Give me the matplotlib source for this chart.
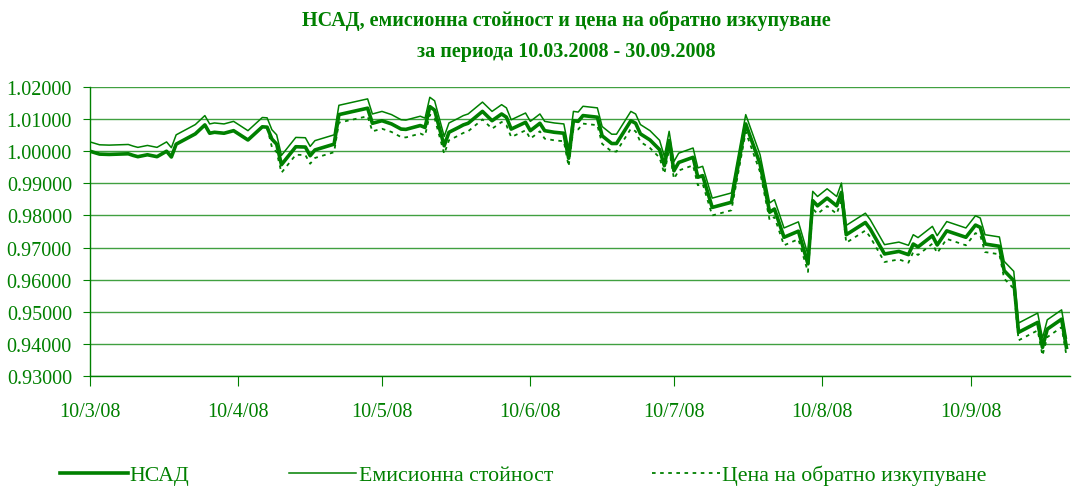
import datetime as dt
import matplotlib
matplotlib.use("Agg")
import matplotlib.pyplot as plt
import matplotlib.dates as mdates
from matplotlib.ticker import MultipleLocator, FuncFormatter

GREEN = "#008000"

# dates of the points (2008)
dates = [
    "03-10", "03-12", "03-14", "03-18", "03-19", "03-20", "03-22", "03-24", "03-26", "03-27", "03-28",
    "04-01", "04-03", "04-04", "04-05", "04-07", "04-09", "04-12", "04-15", "04-16", "04-17", "04-18",
    "04-19", "04-22", "04-24", "04-25", "04-26", "04-30",
    "05-01", "05-07", "05-08", "05-10", "05-12", "05-14", "05-15", "05-18", "05-19", "05-20", "05-21",
    "05-23", "05-24", "05-26", "05-27", "05-28", "05-31",
    "06-02", "06-04", "06-05", "06-06", "06-09", "06-10", "06-12", "06-13", "06-15", "06-17", "06-18",
    "06-19", "06-20", "06-21", "06-24", "06-25", "06-27", "06-28",
    "07-01", "07-02", "07-03", "07-05", "07-07", "07-08", "07-09", "07-10", "07-11", "07-14", "07-15",
    "07-16", "07-18", "07-22", "07-25", "07-28", "07-30", "07-31",
    "08-02", "08-05", "08-07", "08-08", "08-09", "08-11", "08-13", "08-14", "08-15", "08-19", "08-20",
    "08-23", "08-26", "08-28", "08-29", "08-30",
    "09-02", "09-03", "09-05", "09-09", "09-11", "09-12", "09-13", "09-16", "09-17", "09-19", "09-20",
    "09-24", "09-25", "09-26", "09-29", "09-30",
]

nav = [
    1.0000, 0.9991, 0.9990, 0.9992, 0.9987, 0.9983, 0.9989, 0.9983, 1.0000, 0.9982, 1.0022,
    1.0054, 1.0082, 1.0056, 1.0059, 1.0056, 1.0064, 1.0035, 1.0076, 1.0075, 1.0038, 1.0022,
    0.9958, 1.0014, 1.0013, 0.9986, 1.0004, 1.0022,
    1.0114, 1.0134, 1.0087, 1.0095, 1.0085, 1.0069, 1.0068, 1.0080, 1.0074, 1.0139, 1.0128,
    1.0017, 1.0059, 1.0074, 1.0082, 1.0087, 1.0124,
    1.0095, 1.0116, 1.0106, 1.0069, 1.0090, 1.0064, 1.0087, 1.0064, 1.0059, 1.0056, 0.9978,
    1.0095, 1.0093, 1.0111, 1.0106, 1.0048, 1.0024, 1.0024,
    1.0095, 1.0087, 1.0054, 1.0035, 1.0005, 0.9955, 1.0033, 0.9939, 0.9965, 0.9981, 0.9919,
    0.9924, 0.9825, 0.9841, 1.0085, 0.9960, 0.9810, 0.9820,
    0.9732, 0.9751, 0.9649, 0.9846, 0.9830, 0.9854, 0.9830, 0.9872, 0.9740, 0.9778, 0.9758,
    0.9680, 0.9688, 0.9678, 0.9711, 0.9702,
    0.9737, 0.9708, 0.9752, 0.9732, 0.9770, 0.9763, 0.9711, 0.9704, 0.9628, 0.9597, 0.9436,
    0.9467, 0.9389, 0.9446, 0.9477, 0.9389,
]

emission = [
    1.0029, 1.0020, 1.0019, 1.0021, 1.0016, 1.0012, 1.0018, 1.0012, 1.0029, 1.0011, 1.0051,
    1.0083, 1.0111, 1.0085, 1.0088, 1.0085, 1.0093, 1.0064, 1.0105, 1.0104, 1.0067, 1.0051,
    0.9987, 1.0043, 1.0042, 1.0015, 1.0033, 1.0051,
    1.0143, 1.0163, 1.0116, 1.0124, 1.0114, 1.0098, 1.0097, 1.0109, 1.0103, 1.0168, 1.0157,
    1.0046, 1.0088, 1.0103, 1.0111, 1.0116, 1.0153,
    1.0124, 1.0145, 1.0135, 1.0098, 1.0119, 1.0093, 1.0116, 1.0093, 1.0088, 1.0085, 1.0007,
    1.0124, 1.0122, 1.0140, 1.0135, 1.0077, 1.0053, 1.0053,
    1.0124, 1.0116, 1.0083, 1.0064, 1.0034, 0.9984, 1.0062, 0.9968, 0.9994, 1.0010, 0.9948,
    0.9953, 0.9854, 0.9870, 1.0114, 0.9989, 0.9839, 0.9849,
    0.9761, 0.9780, 0.9678, 0.9875, 0.9859, 0.9883, 0.9859, 0.9901, 0.9769, 0.9807, 0.9787,
    0.9709, 0.9717, 0.9707, 0.9740, 0.9731,
    0.9766, 0.9737, 0.9781, 0.9761, 0.9799, 0.9792, 0.9740, 0.9733, 0.9657, 0.9626, 0.9465,
    0.9496, 0.9418, 0.9475, 0.9506, 0.9418,
]

redemption = [
    1.0000, 0.9991, 0.9990, 0.9992, 0.9987, 0.9983, 0.9989, 0.9983, 1.0000, 0.9982, 1.0022,
    1.0054, 1.0082, 1.0056, 1.0059, 1.0056, 1.0064, 1.0035, 1.0076, 1.0075, 1.0013, 0.9997,
    0.9933, 0.9989, 0.9988, 0.9961, 0.9979, 0.9997,
    1.0089, 1.0109, 1.0062, 1.0070, 1.0060, 1.0044, 1.0043, 1.0055, 1.0049, 1.0114, 1.0103,
    0.9992, 1.0034, 1.0049, 1.0057, 1.0062, 1.0099,
    1.0070, 1.0091, 1.0081, 1.0044, 1.0065, 1.0039, 1.0062, 1.0039, 1.0034, 1.0031, 0.9953,
    1.0070, 1.0068, 1.0086, 1.0081, 1.0023, 0.9999, 0.9999,
    1.0070, 1.0062, 1.0029, 1.0010, 0.9980, 0.9930, 1.0008, 0.9914, 0.9940, 0.9956, 0.9894,
    0.9899, 0.9800, 0.9816, 1.0060, 0.9935, 0.9785, 0.9795,
    0.9707, 0.9726, 0.9624, 0.9821, 0.9805, 0.9829, 0.9805, 0.9847, 0.9715, 0.9753, 0.9733,
    0.9655, 0.9663, 0.9653, 0.9686, 0.9677,
    0.9712, 0.9683, 0.9727, 0.9707, 0.9745, 0.9738, 0.9686, 0.9679, 0.9603, 0.9572, 0.9411,
    0.9442, 0.9364, 0.9421, 0.9452, 0.9364,
]

labels = ["НСАД", "Емисионна стойност", "Цена на обратно изкупуване"]
title = "НСАД, емисионна стойност и цена на обратно изкупуване\nза периода 10.03.2008 - 30.09.2008"

x = [dt.datetime.strptime("2008-" + d, "%Y-%m-%d") for d in dates]

plt.rcParams["font.family"] = ["Liberation Serif", "DejaVu Serif"]

fig = plt.figure(figsize=(10.73, 4.89), dpi=100)
ax = fig.add_axes([90 / 1073, 1 - 377 / 489, 980 / 1073, 289 / 489])

ax.plot(x, nav, color=GREEN, lw=2.6, label=labels[0], zorder=4)
ax.plot(x, emission, color=GREEN, lw=1.1, label=labels[1], zorder=3)
ax.plot(x, redemption, color=GREEN, lw=1.3, ls=(0, (2, 2.5)), label=labels[2], zorder=2)

ax.set_xlim(dt.datetime(2008, 3, 10), dt.datetime(2008, 9, 30, 18))
ax.set_ylim(0.93, 1.02)
ax.yaxis.set_major_locator(MultipleLocator(0.01))
ax.yaxis.set_major_formatter(FuncFormatter(lambda v, p: f"{v:.5f}"))
ax.xaxis.set_major_locator(mdates.MonthLocator(bymonthday=10))
ax.xaxis.set_major_formatter(
    FuncFormatter(lambda v, p: (lambda d: f"{d.day}/{d.month}/{d:%y}")(mdates.num2date(v))))

ax.grid(axis="y", color=GREEN, lw=1.0, alpha=0.75)
for s in ["top", "right"]:
    ax.spines[s].set_visible(False)
for s in ["left", "bottom"]:
    ax.spines[s].set_color(GREEN)
    ax.spines[s].set_linewidth(1.0)

ax.tick_params(axis="y", colors=GREEN, labelcolor=GREEN, labelsize=14.5, length=5, pad=8)
ax.tick_params(axis="x", colors=GREEN, labelcolor=GREEN, labelsize=14.5, length=7, pad=12)

fig.text(0.528, 1 - 36 / 489, title, ha="center", va="center", color=GREEN,
         fontsize=14.5, fontweight="bold", linespacing=1.75)

leg = fig.legend(loc="center left", bbox_to_anchor=(60 / 1073, 1 - 476 / 489), ncol=3,
                 frameon=False, fontsize=15.7, handlelength=3.1, handletextpad=0.1,
                 columnspacing=4.55, borderpad=0, borderaxespad=0)
for t in leg.get_texts():
    t.set_color(GREEN)

fig.savefig("out.png", dpi=100)
